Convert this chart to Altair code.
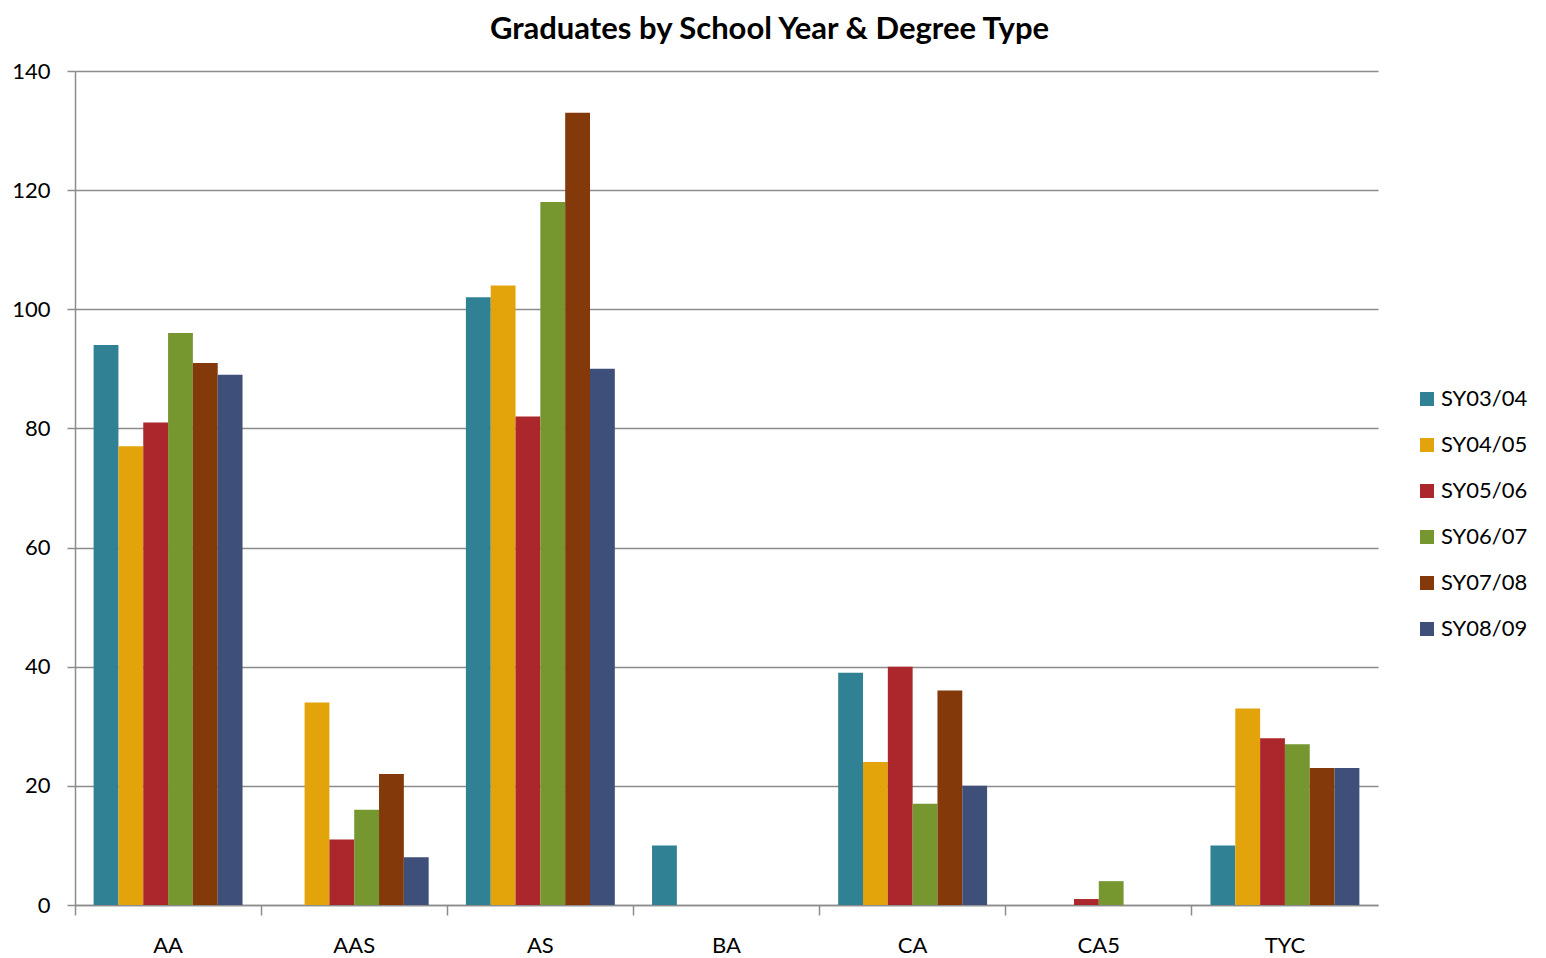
import altair as alt
import pandas as pd

degrees = ["AA", "AAS", "AS", "BA", "CA", "CA5", "TYC"]
years = ["SY03/04", "SY04/05", "SY05/06", "SY06/07", "SY07/08", "SY08/09"]
colors = ["#2F8193", "#E2A40A", "#AB272B", "#76962F", "#83390A", "#3E5079"]

sy0304 = [94, 0, 102, 10, 39, 0, 10]
sy0405 = [77, 34, 104, 0, 24, 0, 33]
sy0506 = [81, 11, 82, 0, 40, 1, 28]
sy0607 = [96, 16, 118, 0, 17, 4, 27]
sy0708 = [91, 22, 133, 0, 36, 0, 23]
sy0809 = [89, 8, 90, 0, 20, 0, 23]

series = [sy0304, sy0405, sy0506, sy0607, sy0708, sy0809]
rows = []
for yr, vals in zip(years, series):
    for d, v in zip(degrees, vals):
        rows.append({"degree": d, "year": yr, "count": v})
df = pd.DataFrame(rows)

FONT = "Lato"

chart = alt.Chart(df).mark_bar(strokeWidth=0).encode(
    x=alt.X("degree:N", sort=degrees, title=None,
            scale=alt.Scale(paddingInner=0, paddingOuter=0),
            axis=alt.Axis(labelAngle=0, bandPosition=0, ticks=True, tickSize=10,
                          tickColor="#8c8c8c", tickWidth=1.5, domainColor="#8c8c8c",
                          domainWidth=1.5, labelFontSize=22, labelFont=FONT,
                          labelColor="black", labelPadding=20, grid=False)),
    xOffset=alt.XOffset("year:N", sort=years,
                        scale=alt.Scale(paddingInner=0, paddingOuter=0.75)),
    y=alt.Y("count:Q", title=None,
            scale=alt.Scale(domain=[0, 140], nice=False),
            axis=alt.Axis(values=[0, 20, 40, 60, 80, 100, 120, 140], tickSize=8,
                          tickColor="#8c8c8c", tickWidth=1.5, domainColor="#8c8c8c",
                          domainWidth=1.5, gridColor="#8c8c8c", gridWidth=1.5,
                          labelFontSize=22, labelFont=FONT, labelColor="black",
                          labelPadding=17)),
    color=alt.Color("year:N", sort=years, title=None,
                    scale=alt.Scale(domain=years, range=colors),
                    legend=alt.Legend(orient="none", legendX=1341, legendY=317,
                                      symbolType="square", symbolSize=196,
                                      symbolStrokeWidth=0, labelFontSize=22,
                                      labelFont=FONT, labelColor="black",
                                      rowPadding=24, labelOffset=3)),
).properties(
    width=1303, height=834,
    title=alt.TitleParams("Graduates by School Year & Degree Type", font=FONT,
                          fontSize=31, fontWeight="bold", color="black",
                          anchor="middle", dx=43, offset=14),
    padding={"left": 3, "top": 6, "right": 5, "bottom": 5},
).configure_view(stroke=None).configure_axis(gridOpacity=1)

chart.save("out.html", embed_options={"renderer": "svg", "actions": False})
